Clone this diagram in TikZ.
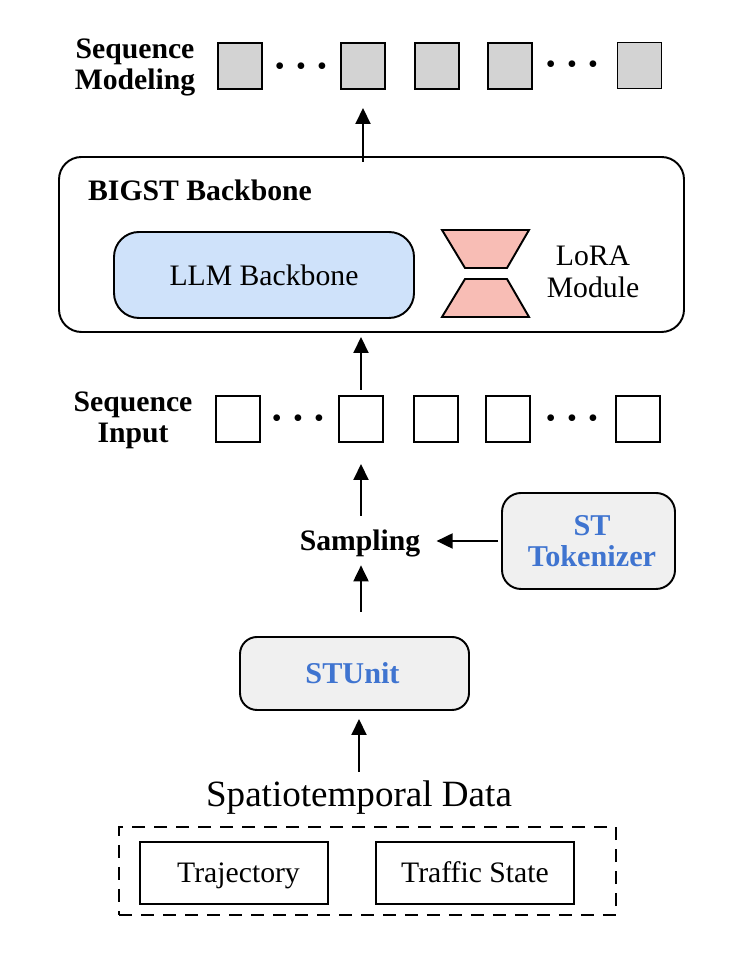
\documentclass[tikz,border=0pt]{standalone}
\usepackage{fontspec}
\setmainfont{Liberation Serif}
\usepackage{xcolor}
\usetikzlibrary{arrows.meta, positioning, calc}
\definecolor{cellgray}{HTML}{D3D3D3}
\definecolor{llmblue}{HTML}{CFE2FA}
\definecolor{lorapink}{HTML}{F8BDB5}
\definecolor{unitgray}{HTML}{F0F0F0}
\definecolor{unitblue}{HTML}{3F74D0}
\tikzset{
    inbox/.style={rectangle, draw=black, line width=1.1pt, fill=white, outer sep=0pt,
                 minimum width=0.88cm, minimum height=0.92cm, inner sep=0pt},
    outbox/.style={inbox, fill=cellgray},
    lab/.style={align=center, inner sep=0pt, font=\fontsize{16.9}{17.6}\selectfont},
    blab/.style={lab, font=\fontsize{16.9}{17.6}\selectfont\bfseries},
    unitbox/.style={rectangle, draw=black, line width=1.1pt, fill=unitgray, outer sep=0pt,
                 align=center, text=unitblue, font=\fontsize{17.2}{17.6}\selectfont\bfseries},
    databox/.style={rectangle, draw=black, line width=1.1pt, outer sep=0pt,
                 minimum height=1.24cm, text height=0.39cm, text depth=0pt,
                 font=\fontsize{16.9}{17.6}\selectfont},
    lora/.style={draw=black, line width=1.1pt, fill=lorapink},
    dots/.style={inner sep=0pt, font=\fontsize{16}{16}\selectfont},
    arr/.style={-{Triangle[length=0.32cm,width=0.3cm]}, line width=1.1pt, draw=black}
}
\newcommand{\threedots}{\textbullet\hspace{0.225cm}\textbullet\hspace{0.225cm}\textbullet}

\begin{document}
\begin{tikzpicture}
\useasboundingbox (0,0) rectangle (14.92,19.44);
% ── Sequence modeling row ─────────────────────────────────────────────
\node[blab] at (2.70,18.09) (modlab) {Sequence\\Modeling};
\node[outbox] at (4.80, 18.12) (mone)   {};
\node[dots]   at (6.02, 18.06) (mdotsa) {\threedots};
\node[outbox] at (7.26, 18.12) (mtwo)   {};
\node[outbox] at (8.74, 18.12) (mthree) {};
\node[outbox] at (10.2, 18.12) (mfour)  {};
\node[dots]   at (11.44,18.10) (mdotsb) {\threedots};
\node[outbox] at (12.79,18.13) (mfive)  {};

% ── Backbone ──────────────────────────────────────────────────────────
\node[rectangle, draw=black, line width=1.1pt, rounded corners=0.45cm, outer sep=0pt,
      minimum width=12.5cm, minimum height=3.5cm] at (7.43,14.55) (backbone) {};
\node[blab] at (4.0,15.64) (backlab) {BIGST Backbone};
\node[rectangle, draw=black, line width=1.1pt, fill=llmblue, rounded corners=0.5cm, outer sep=0pt,
      minimum width=6cm, minimum height=1.72cm, lab] at (5.28,13.94) (llm) {LLM Backbone};
\draw[lora] (8.84,14.84) -- (10.58,14.84) -- (10.14,14.08) -- (9.3,14.08) -- cycle;
\draw[lora] (9.3,13.86) -- (10.14,13.86) -- (10.58,13.10) -- (8.84,13.10) -- cycle;
\node[lab] at (11.86,14.0) (loralab) {LoRA\\[1pt]Module};

% ── Sequence input row ────────────────────────────────────────────────
\node[blab] at (2.66,11.04) (inlab) {Sequence\\Input};
\node[inbox] at (4.76, 11.06) (ione)   {};
\node[dots]  at (5.96, 11.02) (idotsa) {\threedots};
\node[inbox] at (7.22, 11.06) (itwo)   {};
\node[inbox] at (8.72, 11.06) (ithree) {};
\node[inbox] at (10.16,11.06) (ifour)  {};
\node[dots]  at (11.44,11.02) (idotsb) {\threedots};
\node[inbox] at (12.76,11.06) (ifive)  {};

% ── Sampling and units ────────────────────────────────────────────────
\node[blab, minimum height=0.8cm, text height=0.39cm, text depth=0pt] at (7.2,8.62) (samp) {Sampling};
\node[unitbox, rounded corners=0.38cm, minimum width=3.46cm, minimum height=1.92cm]
      at (11.77,8.62) (token) {\hspace*{0.14cm}ST\\\hspace*{0.14cm}Tokenizer};
\node[unitbox, rounded corners=0.34cm, minimum width=4.58cm, minimum height=1.46cm]
      at (7.09,5.97) (stunit) {\hspace*{-0.08cm}STUnit};

% ── Data ──────────────────────────────────────────────────────────────
\node[inner sep=0pt, minimum height=0.8cm, font=\fontsize{21.1}{24}\selectfont] at (7.18,3.48) (data) {Spatiotemporal Data};
\node[rectangle, draw=black, line width=1.1pt, dash pattern=on 0.26cm off 0.18cm, outer sep=0pt,
      minimum width=9.94cm, minimum height=1.76cm] at (7.35,2.02) (dataframe) {};
\node[databox, minimum width=3.76cm] at (4.68,1.98) (traj) {\hspace{0.18cm}Trajectory};
\node[databox, minimum width=3.96cm] at (9.5,1.98) (traffic) {Traffic State};

% ── Arrows ────────────────────────────────────────────────────────────
\draw[arr, shorten <=-0.1cm, shorten >=0.38cm] (backbone.north -| mtwo) -- (mtwo.south);
\draw[arr, shorten <=0.12cm, shorten >=0.1cm] (itwo.north) -- (itwo.north |- backbone.south);
\draw[arr, shorten <=0.1cm, shorten >=0.44cm] (samp.north -| itwo) -- (itwo.south);
\draw[arr, shorten <=0.5cm, shorten >=0.08cm] (stunit.north -| itwo) -- (samp.south -| itwo);
\draw[arr, shorten <=0.08cm, shorten >=0.32cm] (token.west) -- (samp.east);
\draw[arr, shorten <=0.12cm, shorten >=0.18cm] (data.north) -- (data.north |- stunit.south);
\end{tikzpicture}
\end{document}
